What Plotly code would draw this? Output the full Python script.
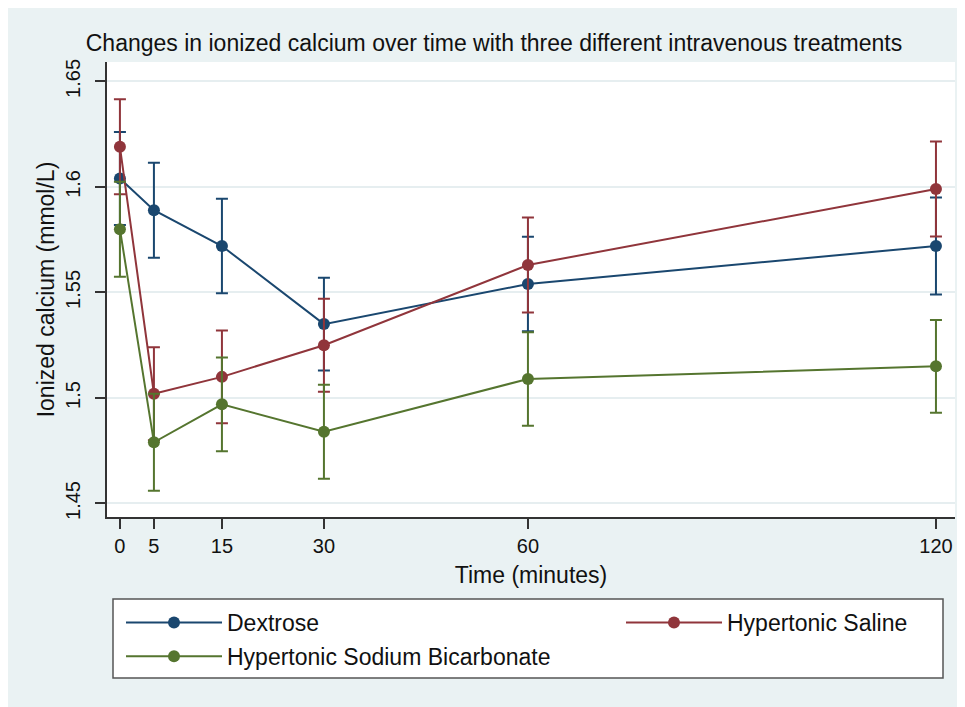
import plotly.graph_objects as go

# ---- data ----
time_min = [0, 5, 15, 30, 60, 120]
x_tick_labels = ["0", "5", "15", "30", "60", "120"]
y_tick_vals = [1.45, 1.5, 1.55, 1.6, 1.65]
y_tick_labels = ["1.45", "1.5", "1.55", "1.6", "1.65"]

dextrose = [1.604, 1.589, 1.572, 1.535, 1.554, 1.572]
dextrose_err = [0.022, 0.0225, 0.0224, 0.022, 0.0224, 0.023]

saline = [1.619, 1.502, 1.510, 1.525, 1.563, 1.599]
saline_err = [0.0225, 0.022, 0.022, 0.022, 0.0225, 0.0225]

bicarb = [1.580, 1.479, 1.497, 1.484, 1.509, 1.515]
bicarb_err = [0.0225, 0.023, 0.0222, 0.0223, 0.0222, 0.022]

series_names = ["Dextrose", "Hypertonic Saline", "Hypertonic Sodium Bicarbonate"]
colors = ["#1A476F", "#90353B", "#55752F"]

FONT = "Liberation Sans, Arial, Helvetica, sans-serif"

fig = go.Figure()

def add_series(name, y, err, color, legend, group):
    fig.add_trace(go.Scatter(
        x=time_min, y=y, name=name, mode="lines+markers",
        line=dict(color=color, width=2),
        marker=dict(color=color, size=12),
        error_y=dict(type="data", array=err, visible=True, color=color,
                     thickness=2, width=6),
        legend=legend, legendgroup=group,
    ))

add_series(series_names[0], dextrose, dextrose_err, colors[0], "legend", "a")
add_series(series_names[1], saline, saline_err, colors[1], "legend2", "b")
add_series(series_names[2], bicarb, bicarb_err, colors[2], "legend", "c")

# page has an 8px body margin; work in page pixels and convert
OFF = 8
W, H = 957, 699
L, R, T, B = 107 - OFF, 955 - OFF, 62 - OFF, 517 - OFF
pw, ph = R - L, B - T

def px_x(page_px):
    return (page_px - OFF - L) / pw

def px_y(page_py):
    return (B - (page_py - OFF)) / ph

shapes = [
    dict(type="rect", xref="paper", yref="paper", layer="below",
         x0=px_x(113), x1=px_x(943), y0=px_y(678), y1=px_y(599),
         fillcolor="white", line=dict(color="#555555", width=1.5)),
]

fig.update_layout(
    width=W, height=H,
    margin=dict(l=L, r=W - R, t=T, b=H - B),
    paper_bgcolor="#EAF2F3", plot_bgcolor="white",
    font=dict(family=FONT, size=20, color="#111111"),
    title=dict(text="Changes in ionized calcium over time with three different intravenous treatments",
               x=px_x(494), xref="paper", xanchor="center",
               y=1 - (43 - OFF) / H, yref="container", yanchor="middle",
               font=dict(size=23, color="#111111")),
    shapes=shapes,
    showlegend=True,
    legend=dict(x=px_x(121), y=px_y(601), xanchor="left", yanchor="top",
                orientation="v", bgcolor="rgba(0,0,0,0)", borderwidth=0,
                font=dict(size=23), itemwidth=96, tracegroupgap=1),
    legend2=dict(x=px_x(621), y=px_y(601), xanchor="left", yanchor="top",
                 orientation="v", bgcolor="rgba(0,0,0,0)", borderwidth=0,
                 font=dict(size=23), itemwidth=96),
    xaxis=dict(range=[-1.9, 122.8], tickvals=time_min, ticktext=x_tick_labels,
               showgrid=False, zeroline=False, showline=True, linecolor="#333333",
               linewidth=1.5, ticks="outside", ticklen=10, tickcolor="#333333",
               tickwidth=1.5, tickfont=dict(size=20),
               title=dict(text="Time (minutes)", font=dict(size=23), standoff=11)),
    yaxis=dict(range=[1.4436, 1.6592], tickvals=y_tick_vals, ticktext=y_tick_labels,
               tickangle=-90, showgrid=True, gridcolor="#E6EEF0", gridwidth=1.5,
               zeroline=False, showline=True, linecolor="#333333", linewidth=1.5,
               ticks="outside", ticklen=10, tickcolor="#333333", tickwidth=1.5,
               tickfont=dict(size=20), ticklabelstandoff=7,
               title=dict(text="Ionized calcium (mmol/L)", font=dict(size=23), standoff=1)),
)

fig.write_html("out.html")
